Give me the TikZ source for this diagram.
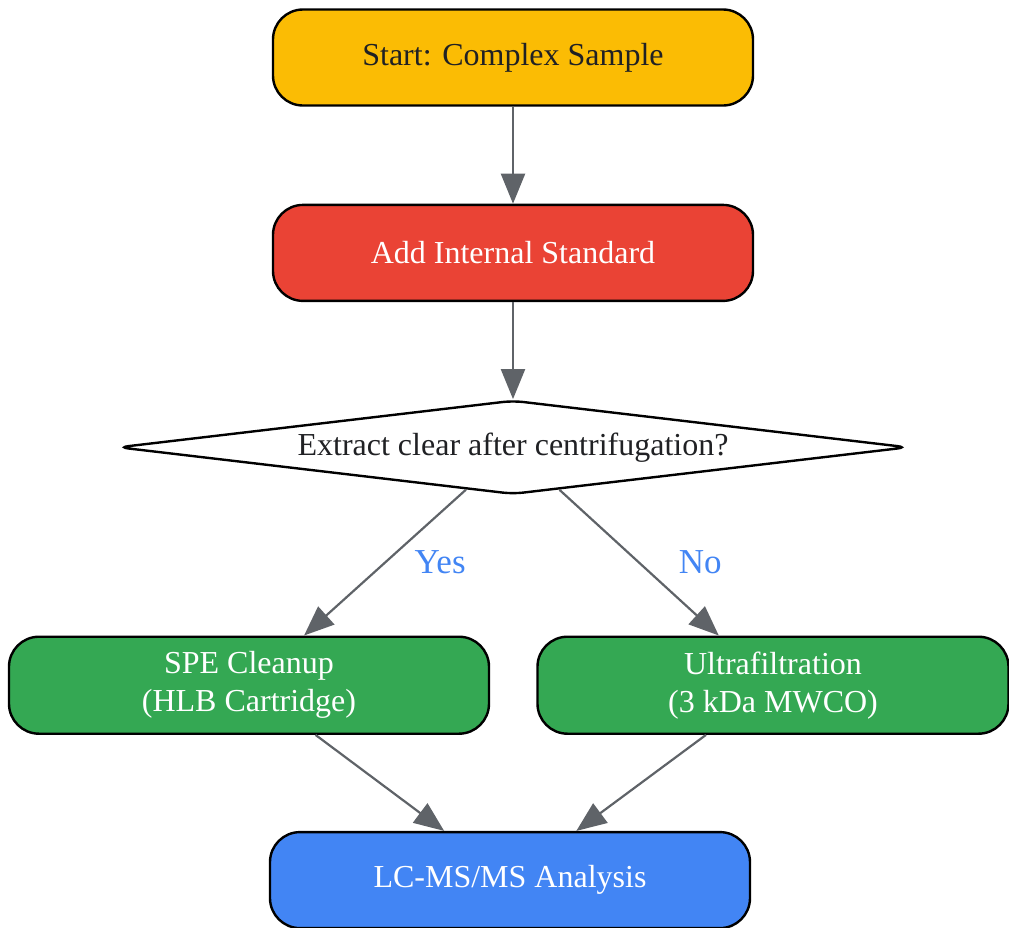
\documentclass[tikz,border=0pt]{standalone}
\usepackage{fontspec}
\setmainfont{Liberation Serif}
\usepackage{xcolor}
\usepackage{tikz}
\usetikzlibrary{arrows.meta,positioning,shapes.geometric}

\definecolor{gyellow}{HTML}{FBBC04}
\definecolor{gred}{HTML}{EA4335}
\definecolor{ggreen}{HTML}{34A853}
\definecolor{gblue}{HTML}{4285F4}
\definecolor{edgegray}{HTML}{5F6368}
\definecolor{textdark}{HTML}{202124}

\begin{document}
\begin{tikzpicture}[x=0.5pt,y=-0.5pt,
        >={Triangle[length=15pt,width=12pt]},
        every edge/.style={draw=edgegray,line width=1.1pt,->},
        font=\fontsize{16pt}{19pt}\selectfont]
    \tikzstyle{proc}=[draw=black,line width=1.2pt,rounded corners=15pt,
        minimum width=240pt,minimum height=48pt,align=center,text=white]
    \tikzstyle{decision}=[diamond,draw=black,line width=1.2pt,fill=white,
        aspect=8.6,minimum width=395pt,minimum height=47pt,inner sep=1pt,
        rounded corners=5pt,text=textdark]
    \tikzstyle{answer}=[text=gblue,font=\fontsize{17.5pt}{20pt}\selectfont]

    \useasboundingbox (0,0) rectangle (1009,928);

    \node[proc, fill=gyellow, text=textdark] (start) at (513,57.5) {Start: Complex Sample};
    \node[proc, fill=gred] (addis) [below=48.5pt of start] {Add Internal Standard};
    \node[decision] (clear) [below=48.5pt of addis] {Extract clear after centrifugation?};
    \node[proc, fill=ggreen, minimum height=48.5pt] (spe) [below=70pt of clear, xshift=-132pt]
        {SPE Cleanup\\(HLB Cartridge)};
    \node[proc, fill=ggreen, minimum height=48.5pt, minimum width=235.5pt] (ultra)
        [below=70pt of clear, xshift=130pt] {Ultrafiltration\\(3 kDa MWCO)};
    \node[proc, fill=gblue] (lcms) [below=48pt of spe, xshift=130.5pt] {LC-MS/MS Analysis};

    \path (start) edge (addis);
    \path (addis) edge (clear);
    \path (clear) edge node[answer, pos=0.5, anchor=west, xshift=11pt] {Yes} (spe);
    \path (clear) edge node[answer, pos=0.5, anchor=west, xshift=16pt] {No} (ultra);
    \path (spe) edge (lcms);
    \path (ultra) edge (lcms);
\end{tikzpicture}
\end{document}
